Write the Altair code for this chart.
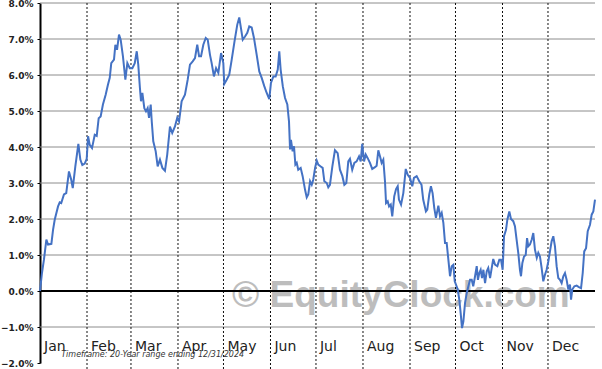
import altair as alt
import pandas as pd

# Day of year (leap year, 0..366) and seasonal % change
days = [0, 1.3, 2.6, 4.2, 5.3, 7.5, 8.6, 9.7, 11.9, 13.0, 14.0, 15.8, 17.3, 19.1, 20.6, 21.6, 23.3, 25.3,
        26.6, 27.9, 29.5, 30.8, 31.7, 32.8, 34.3, 36.1, 37.4, 38.7, 40.0, 41.5, 43.3, 44.8, 46.0, 47.0,
        48.8, 49.7, 50.8, 52.1, 53.2, 54.7, 56.3, 57.6, 59.2, 60.9, 62.5, 63.8, 64.8, 65.9, 66.6, 67.5,
        68.8, 69.9, 71.0, 71.9, 73.0, 73.7, 74.7, 76.3, 77.6, 79.1, 80.7, 82.4, 83.9, 85.7, 87.2, 89.0,
        90.5, 91.7, 93.4, 95.6, 97.4, 98.9, 100.7, 102.2, 103.7, 104.9, 106.2, 107.7, 109.3, 110.6,
        112.1, 113.2, 114.7, 116.1, 117.6, 119.4, 120.9, 121.5, 123.1, 124.8, 126.4, 128.3, 130.1,
        131.4, 132.5, 133.7, 135.2, 136.7, 138.0, 139.6, 141.1, 142.9, 144.6, 146.2, 147.9, 149.5,
        151.2, 152.3, 153.9, 155.4, 156.8, 157.8, 158.7, 160.1, 161.6, 163.1, 164.2, 164.9, 165.5,
        166.6, 167.5, 168.4, 169.3, 170.3, 171.9, 173.2, 174.8, 175.9, 176.9, 178.1, 179.2, 180.2,
        181.4, 182.5, 183.5, 185.1, 186.4, 187.5, 189.1, 190.1, 191.2, 192.8, 194.5, 196.3, 197.8,
        199.4, 200.7, 202.0, 203.3, 204.4, 205.9, 207.3, 208.8, 210.4, 211.5, 212.5, 213.7, 214.8,
        216.1, 217.6, 219.1, 220.9, 222.0, 223.1, 224.2, 225.3, 226.4, 227.5, 228.2, 229.3, 230.2,
        231.3, 232.3, 233.6, 234.8, 235.9, 236.7, 238.1, 239.6, 241.2, 242.5, 244.0, 245.5, 246.6,
        248.4, 250.1, 251.6, 252.7, 254.5, 255.4, 256.7, 257.8, 258.9, 260.0, 261.1, 262.7, 263.8,
        264.9, 266.0, 267.1, 268.2, 269.3, 270.4, 271.5, 272.6, 273.5, 274.3, 275.5, 276.5, 277.4,
        278.3, 279.2, 280.3, 281.4, 282.5, 283.6, 284.7, 285.7, 286.9, 288.0, 288.8, 289.7, 290.6,
        291.5, 292.4, 293.5, 294.6, 295.6, 296.8, 297.9, 298.9, 300.1, 301.6, 302.9, 304.0, 305.1,
        306.0, 307.3, 308.2, 309.5, 310.6, 312.1, 313.2, 314.3, 315.4, 316.5, 317.2, 318.1, 319.2,
        320.3, 321.2, 322.0, 323.1, 324.3, 325.3, 326.4, 327.6, 328.6, 329.7, 330.8, 331.9, 333.0,
        334.1, 335.2, 336.3, 337.4, 338.5, 339.6, 340.7, 341.8, 342.9, 344.0, 345.1, 346.2, 347.3,
        348.4, 349.5, 350.2, 351.0, 352.4, 353.9, 355.4, 356.8, 357.9, 358.9, 360.1, 361.2, 362.7,
        363.8, 364.9, 366.0]
values = [0.0, 0.5, 0.87, 1.43, 1.29, 1.31, 1.7, 1.98, 2.35, 2.46, 2.44, 2.68, 2.72, 3.32, 3.09, 2.86, 3.46, 4.09,
          3.65, 3.5, 3.54, 3.67, 4.3, 4.06, 3.97, 4.34, 4.31, 4.8, 4.85, 5.18, 5.45, 5.73, 5.92, 6.33,
          6.43, 6.84, 6.7, 7.12, 6.98, 6.52, 5.87, 6.33, 6.19, 6.19, 6.33, 6.66, 6.29, 5.64, 5.27, 5.5,
          5.08, 4.99, 5.08, 4.81, 5.18, 4.71, 4.16, 3.88, 3.46, 3.65, 3.42, 3.34, 3.79, 4.57, 4.39, 4.57,
          4.81, 4.71, 5.27, 5.45, 5.87, 6.29, 6.38, 6.47, 6.84, 6.52, 6.52, 6.84, 7.03, 6.98,
          6.56, 6.33, 5.96, 6.19, 6.06, 6.61, 6.33, 5.75, 5.87, 6.01, 6.42, 6.94, 7.4,
          7.6, 7.31, 6.98, 7.07, 7.17, 7.35, 7.32, 7.03, 6.56, 6.1, 5.92, 5.69, 5.5,
          5.33, 5.78, 5.96, 5.96, 6.15, 6.66, 6.15, 5.69, 5.36, 5.18, 4.71, 3.93, 4.2,
          3.88, 4.02, 3.51, 3.56, 3.37, 3.42, 3.19, 2.81, 2.6, 2.68, 3.05, 2.95, 3.09,
          3.42, 3.62, 3.51, 3.46, 3.42, 3.05, 3.0, 2.88, 2.95, 3.46, 3.91, 3.83, 3.37,
          3.19, 2.95, 3.0, 3.6, 3.67, 3.37, 3.56, 3.6, 3.74, 3.6, 4.09, 3.6, 3.79,
          3.69, 3.56, 3.39, 3.44, 3.48, 3.91, 3.74, 3.56, 3.65, 3.05, 2.44, 2.49, 2.35,
          2.4, 2.07, 2.63, 2.83, 2.91, 2.54, 2.4, 2.72, 3.39, 3.23, 3.14, 2.91, 3.14,
          3.19, 3.05, 2.95, 2.54, 2.21, 2.26, 2.68, 2.91, 2.72, 2.31, 2.03, 2.37, 2.07,
          2.17, 1.89, 1.33, 1.33, 0.87, 0.41, 0.69, 0.73, 0.27, 0.18, 0.04, -0.24, -0.61,
          -1.03, -0.84, -0.33, -0.06, 0.13, 0.31, 0.31, 0.13, 0.41, 0.69, 0.31, 0.5, 0.59,
          0.36, 0.59, 0.22, 0.55, 0.64, 0.36, 0.64, 0.89, 0.73, 0.69, 0.87, 0.87, 0.59,
          1.52, 1.7, 1.98, 2.21, 2.0, 1.94, 1.8, 1.43, 1.06, 0.59, 0.41, 0.78, 0.96,
          1.0, 1.47, 1.24, 1.29, 1.43, 1.61, 1.15, 0.92, 1.06, 0.96, 0.64, 0.27, 0.45,
          0.59, 0.82, 1.1, 1.38, 1.52, 1.24, 0.69, 0.36, 0.31, 0.22, 0.41, 0.5, 0.31,
          0.04, 0.18, -0.24, 0.04, 0.13, 0.15, 0.11, 0.08, 0.5, 1.1, 1.19, 1.66, 1.84,
          2.12, 2.21, 2.54]

month_names = ["Jan", "Feb", "Mar", "Apr", "May", "Jun", "Jul", "Aug", "Sep", "Oct", "Nov", "Dec"]
month_start = [0, 31, 60, 91, 121, 152, 182, 213, 244, 274, 305, 335]
grid_levels = [8, 7, 6, 5, 4, 3, 2, 1, -1]
y_ticks = [8, 7, 6, 5, 4, 3, 2, 1, 0, -1, -2]
footer_text = "Timeframe: 20-Year range ending 12/31/2024"
watermark_text = "\u00a9 EquityClock.com"

W, H = 555, 360

line_df = pd.DataFrame({"day": days, "value": values})
month_df = pd.DataFrame({"day": month_start, "month": month_names, "value": [-1.67] * len(month_names)})
vline_df = pd.DataFrame({"day": month_start[1:]})
grid_df = pd.DataFrame({"value": grid_levels})
zero_df = pd.DataFrame({"value": [0]})
footer_df = pd.DataFrame({"day": [14], "value": [-1.83], "t": [footer_text]})
wm_df = pd.DataFrame({"day": [238], "value": [-0.44], "t": [watermark_text]})

xs = alt.Scale(domain=[0, 366], nice=False, zero=False)
ys = alt.Scale(domain=[-2, 8], nice=False, zero=False)

X = alt.X("day:Q", scale=xs, axis=None)
Y = alt.Y("value:Q", scale=ys, title=None, axis=alt.Axis(
    values=y_ticks, labelExpr="format(datum.value, '.1f') + '%'",
    labelFont="DejaVu Sans", labelFontWeight="bold", labelFontSize=9, labelColor="#222222",
    tickColor="black", tickSize=3, tickWidth=1, domainColor="black", domainWidth=2,
    grid=False, labelPadding=4
))

watermark = alt.Chart(wm_df).mark_text(
    font="Liberation Sans", fontWeight="bold", fontSize=37, color="#bdbdbd",
    align="center", baseline="alphabetic"
).encode(x=X, y=Y, text="t:N")

hgrid = alt.Chart(grid_df).mark_rule(color="#8c8c8c", strokeWidth=1).encode(y=Y)

vgrid = alt.Chart(vline_df).mark_rule(color="#111111", strokeWidth=1, strokeDash=[2, 2]).encode(
    x=X, y=alt.value(0), y2=alt.value(H + 6)
)

zero = alt.Chart(zero_df).mark_rule(color="black", strokeWidth=2).encode(y=Y)

months = alt.Chart(month_df).mark_text(
    font="DejaVu Sans", fontSize=14, color="#222222", align="left", baseline="alphabetic", dx=4
).encode(x=X, y=Y, text="month:N")

footer = alt.Chart(footer_df).mark_text(
    font="DejaVu Sans", fontSize=8, fontStyle="italic", color="#333333",
    align="left", baseline="alphabetic"
).encode(x=X, y=Y, text="t:N")

line = alt.Chart(line_df).mark_line(color="#4472C4", strokeWidth=2).encode(x=X, y=Y)

chart = alt.layer(watermark, hgrid, vgrid, zero, months, footer, line).properties(
    width=W, height=H,
    padding={"left": 40, "top": 3, "right": 7, "bottom": 6},
    autosize=alt.AutoSizeParams(type="none"),
    background="white"
).configure_view(stroke=None)

chart.save("out.html", embed_options={"renderer": "svg", "actions": False})
